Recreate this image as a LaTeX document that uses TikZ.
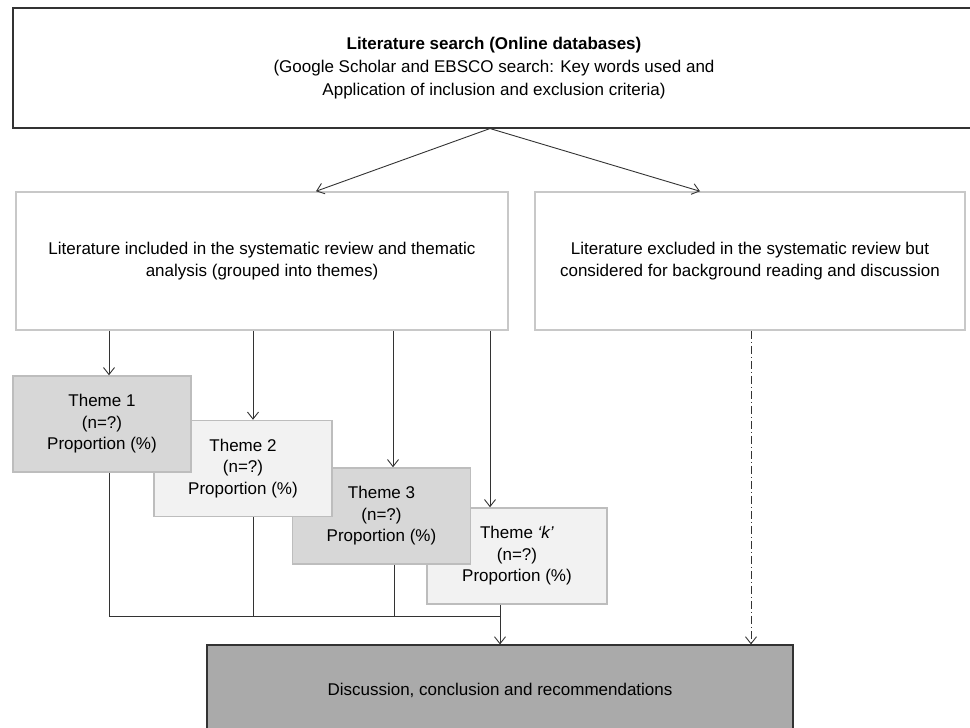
\documentclass[tikz,border=0pt]{standalone}
\usepackage{fontspec}
\setmainfont{Liberation Sans}
\usetikzlibrary{arrows.meta}
\definecolor{lnk}{HTML}{333333}
\definecolor{lightbd}{HTML}{C8C8C8}
\definecolor{themebd}{HTML}{BDBDBD}
\definecolor{darkfill}{HTML}{D7D7D7}
\definecolor{lightfill}{HTML}{F2F2F2}
\definecolor{discfill}{HTML}{AAAAAA}
\tikzset{
  base/.style={rectangle, inner sep=0pt, align=center, font=\fontsize{17}{21.5}\selectfont, text=black},
  topbox/.style={base, draw=lnk, line width=1.1pt, fill=white, minimum width=962pt, minimum height=120pt, font=\fontsize{17}{23}\selectfont},
  midbox/.style={base, draw=lightbd, line width=1.5pt, fill=white, minimum height=138pt, font=\fontsize{17}{22}\selectfont},
  themedark/.style={base, draw=themebd, line width=1.5pt, fill=darkfill, minimum width=178pt, minimum height=96pt},
  themelight/.style={base, draw=themebd, line width=1.5pt, fill=lightfill, minimum width=178pt, minimum height=96pt},
  discbox/.style={base, draw=lnk, line width=1.1pt, fill=discfill, minimum width=586pt, minimum height=90pt},
  arr/.style={draw=lnk, line width=0.9pt, -{Straight Barb[length=7pt,width=11pt,line width=0.9pt]}},
  con/.style={draw=lnk, line width=0.9pt},
}
\begin{document}
\begin{tikzpicture}[x=1pt,y=-1pt]
\useasboundingbox (0,0) rectangle (970,728);
\node[topbox] (top) at (494,68) {\textbf{Literature search (Online databases)}\\(Google Scholar and EBSCO search: Key words used and\\Application of inclusion and exclusion criteria)};
\node[midbox, minimum width=492pt] (inc) at (262,261) {Literature included in the systematic review and thematic\\analysis (grouped into themes)};
\node[midbox, minimum width=430pt] (exc) at (750,261) {Literature excluded in the systematic review but\\considered for background reading and discussion};
\node[discbox] (disc) at (500,690) {Discussion, conclusion and recommendations};
\node[themelight, minimum width=180pt] (tk) at (517,556) {Theme \textit{‘k’}\\(n=?)\\Proportion (\%)};
\node[themedark] (t3) at (381.5,516) {Theme 3\\(n=?)\\Proportion (\%)};
\node[themelight] (t2) at (243,468.5) {Theme 2\\(n=?)\\Proportion (\%)};
\node[themedark] (t1) at (102,424) {Theme 1\\(n=?)\\Proportion (\%)};
\coordinate (split) at ([xshift=-4pt]top.south);
\draw[arr] (split) -- ([xshift=54pt]inc.north);
\draw[arr] (split) -- ([xshift=-50pt]exc.north);
\draw[arr] ([xshift=7pt]t1.north |- inc.south) -- ([xshift=7pt]t1.north);
\draw[arr] ([xshift=10pt]t2.north |- inc.south) -- ([xshift=10pt]t2.north);
\draw[arr] ([xshift=11.5pt]t3.north |- inc.south) -- ([xshift=11.5pt]t3.north);
\draw[arr] ([xshift=-27pt]tk.north |- inc.south) -- ([xshift=-27pt]tk.north);
\coordinate (join) at ([xshift=-17pt,yshift=-12pt]tk.south);
\draw[con] ([xshift=7pt]t1.south) -- ([xshift=7pt]t1.south |- join) -- (join);
\draw[con] ([xshift=10pt]t2.south) -- ([xshift=10pt]t2.south |- join);
\draw[con] ([xshift=12.5pt]t3.south) -- ([xshift=12.5pt]t3.south |- join);
\draw[arr] ([xshift=-17pt]tk.south) -- ([xshift=-17pt]tk.south |- disc.north);
\draw[arr, dash pattern=on 8pt off 3pt on 1pt off 3pt] ([xshift=1pt]exc.south) -- ([xshift=1pt]exc.south |- disc.north);
\end{tikzpicture}
\end{document}
